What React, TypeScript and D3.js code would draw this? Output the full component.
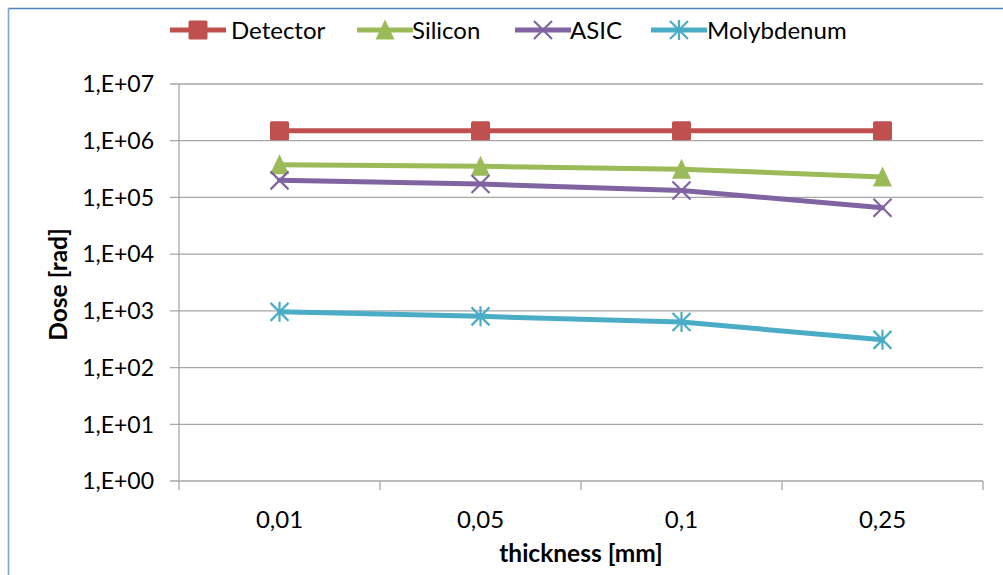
import React from "react";
import * as d3 from "d3";

const categories: string[] = ["0,01", "0,05", "0,1", "0,25"];
const detector: number[] = [1.5e6, 1.5e6, 1.5e6, 1.5e6];
const silicon: number[] = [3.75e5, 3.55e5, 3.15e5, 2.3e5];
const asic: number[] = [2.0e5, 1.72e5, 1.33e5, 6.6e4];
const molybdenum: number[] = [960, 800, 635, 308];
const yTicks: number[] = [1, 10, 100, 1e3, 1e4, 1e5, 1e6, 1e7];
const yTickLabels: string[] = ["1,E+00", "1,E+01", "1,E+02", "1,E+03", "1,E+04", "1,E+05", "1,E+06", "1,E+07"];

const seriesNames = ["Detector", "Silicon", "ASIC", "Molybdenum"];
const seriesValues = [detector, silicon, asic, molybdenum];
const colors = ["#c0504d", "#9bbb59", "#8064a2", "#4bacc6"];
const markers = ["square", "triangle", "x", "star"];

const FONT = "Lato, 'Open Sans', sans-serif";

function Marker({ type, x, y, color }: { type: string; x: number; y: number; color: string }) {
  const s = 9.5;
  if (type === "square") {
    return <rect x={x - s} y={y - s} width={2 * s} height={2 * s} fill={color} rx={1.5} />;
  }
  if (type === "triangle") {
    return <path d={`M${x},${y - s - 1}L${x + s},${y + s}L${x - s},${y + s}Z`} fill={color} />;
  }
  if (type === "x") {
    const r = 9;
    return (
      <path d={`M${x - r},${y - r}L${x + r},${y + r}M${x + r},${y - r}L${x - r},${y + r}`} stroke={color} strokeWidth={2.2} fill="none" />
    );
  }
  const r = 9;
  return (
    <path
      d={`M${x - r},${y - r}L${x + r},${y + r}M${x + r},${y - r}L${x - r},${y + r}M${x},${y - r - 1}L${x},${y + r + 1}`}
      stroke={color}
      strokeWidth={2.2}
      fill="none"
    />
  );
}

export default function App() {
  const left = 179, right = 983, top = 84, bottom = 481;
  const x = d3.scaleBand<string>().domain(categories).range([left, right]).padding(0);
  const y = d3.scaleLog().domain([1, 1e7]).range([bottom, top]);
  const line = d3
    .line<number>()
    .x((_, i) => (x(categories[i]) as number) + x.bandwidth() / 2)
    .y((v) => y(v));
  const gridColor = "#a6a6a6";
  const legendItems = [
    { lx: 170, tx: 231 },
    { lx: 357, tx: 412 },
    { lx: 515, tx: 570 },
    { lx: 651, tx: 707 },
  ];
  const boundaries = [...categories.map((c) => x(c) as number), right];
  return (
    <svg width={1003} height={575} style={{ position: "absolute", left: 0, top: 0 }} fontFamily={FONT}>
      <rect x={0} y={0} width={1003} height={575} fill="#fff" />
      <line x1={8} x2={1003} y1={8.5} y2={8.5} stroke="#4f81bd" strokeWidth={1.6} />
      <line x1={8.5} x2={8.5} y1={8} y2={575} stroke="#7ea4d6" strokeWidth={1.6} />
      {yTicks.map((t, i) => (
        <g key={t}>
          <line x1={170} x2={right} y1={y(t)} y2={y(t)} stroke={gridColor} strokeWidth={1.3} />
          <text x={154} y={y(t)} dy="0.36em" textAnchor="end" fontSize={23} fill="#000">
            {yTickLabels[i]}
          </text>
        </g>
      ))}
      <line x1={left} x2={left} y1={top} y2={bottom} stroke={gridColor} strokeWidth={1.3} />
      {boundaries.map((b, i) => (
        <line key={i} x1={b} x2={b} y1={bottom} y2={bottom + 9} stroke={gridColor} strokeWidth={1.3} />
      ))}
      {categories.map((c) => (
        <text key={c} x={(x(c) as number) + x.bandwidth() / 2} y={528} textAnchor="middle" fontSize={24} fill="#000">
          {c}
        </text>
      ))}
      <text x={(left + right) / 2} y={562} textAnchor="middle" fontSize={24.5} fontWeight="bold" fill="#000">
        thickness [mm]
      </text>
      <text transform={`translate(67,${(top + bottom) / 2 + 2}) rotate(-90)`} textAnchor="middle" fontSize={24.5} fontWeight="bold" fill="#000">
        Dose [rad]
      </text>
      {seriesValues.map((vals, si) => (
        <g key={seriesNames[si]}>
          <path d={line(vals) || ""} fill="none" stroke={colors[si]} strokeWidth={5} strokeLinejoin="round" strokeLinecap="round" />
          {vals.map((v, i) => (
            <Marker key={i} type={markers[si]} x={(x(categories[i]) as number) + x.bandwidth() / 2} y={y(v)} color={colors[si]} />
          ))}
        </g>
      ))}
      {legendItems.map((it, si) => (
        <g key={si}>
          <line x1={it.lx} x2={it.lx + 56} y1={30} y2={30} stroke={colors[si]} strokeWidth={5} />
          <Marker type={markers[si]} x={it.lx + 28} y={30} color={colors[si]} />
          <text x={it.tx} y={30} dy="0.36em" fontSize={24} fill="#000">
            {seriesNames[si]}
          </text>
        </g>
      ))}
    </svg>
  );
}
